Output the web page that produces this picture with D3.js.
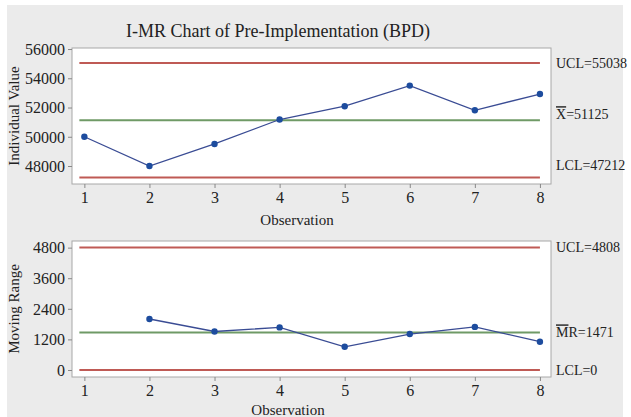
<!DOCTYPE html>
<html><head><meta charset="utf-8">
<script src="https://cdn.jsdelivr.net/npm/d3@7"></script>
<style>body{margin:0;background:#fff}svg{display:block}text{font-family:"Liberation Serif","Times New Roman",serif;fill:#222}</style>
</head><body>
<svg id="c" width="631" height="417"></svg>
<script>
const observations = [1,2,3,4,5,6,7,8];
const individualValues = [50000,48000,49510,51180,52090,53500,51810,52920];
const mrObservations = [2,3,4,5,6,7,8];
const movingRanges = [2000,1510,1670,910,1410,1690,1110];
const iTicks = [48000,50000,52000,54000,56000];
const mrTicks = [0,1200,2400,3600,4800];
const iLimits = [{v:55038,label:"UCL=55038",kind:"ucl",dy:0},{v:51125,label:"X=51125",kind:"cl",bar:"X",dy:-6},{v:47212,label:"LCL=47212",kind:"lcl",dy:-12}];
const mrLimits = [{v:4808,label:"UCL=4808",kind:"ucl",dy:0},{v:1471,label:"MR=1471",kind:"cl",bar:"M",dy:0},{v:0,label:"LCL=0",kind:"lcl",dy:0}];

const svg = d3.select("#c");
svg.append("rect").attr("x",7).attr("y",5).attr("width",616).attr("height",412).attr("fill","#ebebeb");
svg.append("text").attr("x",278).attr("y",37).attr("text-anchor","middle").style("font-size","18px").text("I-MR Chart of Pre-Implementation (BPD)");

const x = d3.scaleLinear().domain([0.81,8.17]).range([72,551]);
const colors = {ucl:"#bf5a55",lcl:"#bf5a55",cl:"#6f9a66"};

function panel(top,bottom,domain,ticks,xs,ys,limits,ytitle,xlabY,xtitleX){
  const y = d3.scaleLinear().domain(domain).range([bottom,top]);
  const g = svg.append("g");
  g.append("rect").attr("x",72).attr("y",top).attr("width",479).attr("height",bottom-top).attr("fill","#fff").attr("stroke","#a8a8a8").attr("stroke-width",1);
  const ya = g.append("g").attr("transform","translate(72,0)").call(d3.axisLeft(y).tickValues(ticks).tickSize(4).tickPadding(3).tickFormat(d3.format("d")));
  ya.select(".domain").remove();
  ya.selectAll("line").attr("stroke","#888");
  ya.selectAll("text").style("font-size","16px").attr("fill","#222").attr("dy","0.33em");
  const xa = g.append("g").attr("transform",`translate(0,${bottom})`).call(d3.axisBottom(x).tickValues(observations).tickSize(4).tickPadding(4).tickFormat(d3.format("d")));
  xa.select(".domain").remove();
  xa.selectAll("line").attr("stroke","#888");
  xa.selectAll("text").style("font-size","16px").attr("fill","#222");
  limits.forEach(l=>{
    g.append("line").attr("x1",x(1)-5).attr("x2",x(8)).attr("y1",y(l.v)).attr("y2",y(l.v)).attr("stroke",colors[l.kind]).attr("stroke-width",2);
    const t = g.append("text").attr("x",556).attr("y",y(l.v)+l.dy).attr("dy","0.35em").style("font-size","14px");
    if(l.bar){
      t.append("tspan").style("text-decoration","overline").text(l.bar);
      t.append("tspan").text(l.label.slice(l.bar.length));
    } else t.text(l.label);
  });
  const line = d3.line().x((d,i)=>x(xs[i])).y(d=>y(d));
  g.append("path").datum(ys).attr("d",line).attr("fill","none").attr("stroke","#3a4c94").attr("stroke-width",1.3);
  g.selectAll("circle.p").data(ys).enter().append("circle").attr("cx",(d,i)=>x(xs[i])).attr("cy",d=>y(d)).attr("r",3.2).attr("fill","#1d4c9e");
  g.append("text").attr("transform",`translate(19,${(top+bottom)/2}) rotate(-90)`).attr("text-anchor","middle").style("font-size","15px").text(ytitle);
  g.append("text").attr("x",xtitleX).attr("y",xlabY).attr("text-anchor","middle").style("font-size","15px").text("Observation");
}
panel(48,184,[46770,56070],iTicks,observations,individualValues,iLimits,"Individual Value",225,297);
panel(241,377,[-275,5060],mrTicks,mrObservations,movingRanges,mrLimits,"Moving Range",415,288);
</script>
</body></html>
